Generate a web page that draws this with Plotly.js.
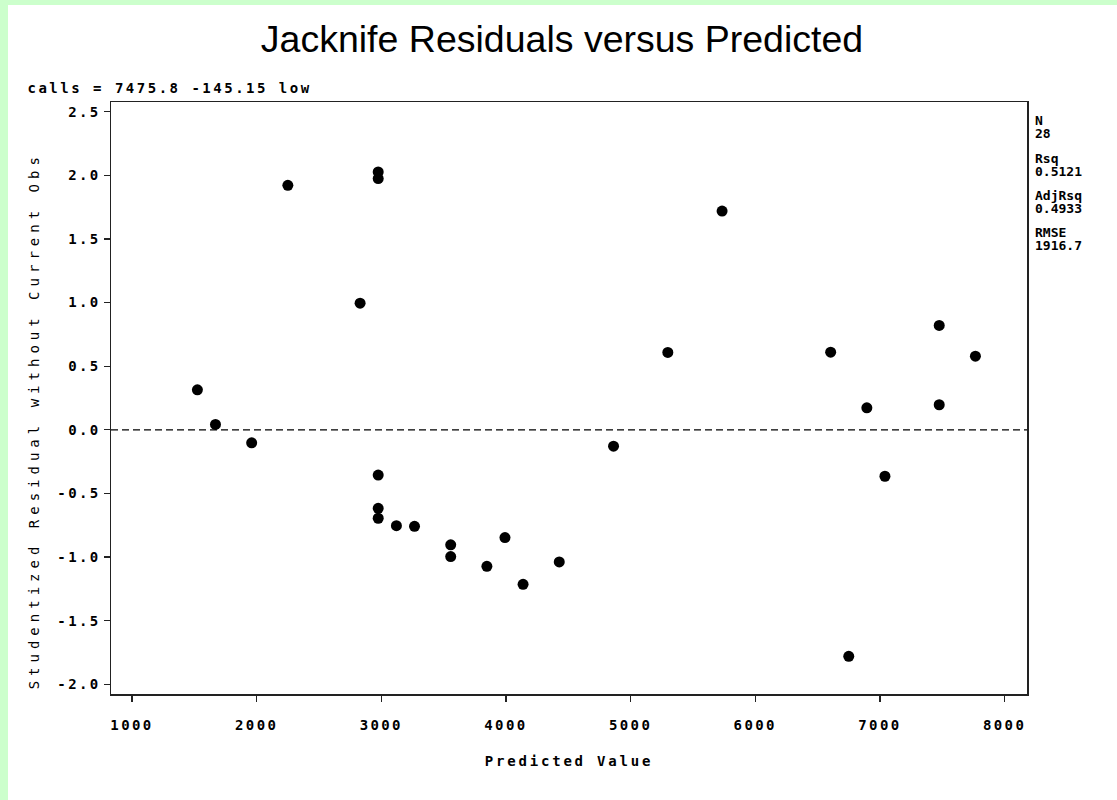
<!DOCTYPE html>
<html><head><meta charset="utf-8">
<script src="https://cdn.plot.ly/plotly-3.0.1.min.js"></script>
<style>
html,body{margin:0;padding:0;background:#ccffcc;width:1117px;height:800px;overflow:hidden;}
#chart{position:absolute;left:8px;top:5px;width:1109px;height:795px;background:#fff;}
#chart .xtick text, #chart .ytick text{letter-spacing:2.4px;}
#chart .xtitle{letter-spacing:2.8px;}
#chart .annotation[data-index="0"] text{letter-spacing:2.5px;}
#chart .annotation[data-index="1"] text{letter-spacing:5px;}
</style></head><body><div id="chart"></div>
<script>
// Data
const predicted = [1524.7, 1669.8, 1960.1, 2250.4, 2830.0, 2975.2, 2975.2, 2975.2, 2975.2, 2975.2,
                   3121.3, 3266.5, 3556.8, 3556.8, 3847.1, 3992.2, 4137.4, 4427.7, 4863.1, 5298.6,
                   5734.0, 6604.9, 6750.1, 6895.2, 7040.4, 7475.8, 7475.8, 7766.1];
const residuals = [0.314, 0.042, -0.102, 1.921, 0.995, 2.026, 1.974, -0.356, -0.617, -0.695,
                   -0.753, -0.758, -0.904, -0.996, -1.073, -0.847, -1.214, -1.038, -0.129, 0.608,
                   1.719, 0.610, -1.780, 0.173, -0.365, 0.820, 0.197, 0.579];
const xTickVals = [1000, 2000, 3000, 4000, 5000, 6000, 7000, 8000];
const yTickVals = [-2, -1.5, -1, -0.5, 0, 0.5, 1, 1.5, 2, 2.5];
const yTickText = ['-2.0', '-1.5', '-1.0', '-0.5', '0.0', '0.5', '1.0', '1.5', '2.0', '2.5'];
const chartTitle = 'Jacknife Residuals versus Predicted';
const xTitle = 'Predicted Value';
const yTitle = 'Studentized Residual without Current Obs';
const modelLabel = 'calls = 7475.8 -145.15 low';
const statNames = ['N', 'Rsq', 'AdjRsq', 'RMSE'];
const statValues = ['28', '0.5121', '0.4933', '1916.7'];

// geometry (page pixels -> paper coords)
const W = 1109, H = 795, offX = 8, offY = 5;
const plotL = 111, plotR = 1027.5, plotT = 101.7, plotB = 693.7;
const mL = plotL - offX, mT = plotT - offY, mR = W - (plotR - offX), mB = H - (plotB - offY);
const pw = plotR - plotL, ph = plotB - plotT;
const px = p => (p - plotL) / pw;
const py = p => 1 - (p - plotT) / ph;

const mono = 'DejaVu Sans Mono, Liberation Mono, monospace';
const boldMono = {family: mono, size: 14, color: '#000', weight: 'bold'};
const annotations = [];
annotations.push({text: modelLabel, xref: 'paper', yref: 'paper', x: px(170.5), y: py(88),
  xanchor: 'center', yanchor: 'middle', showarrow: false, font: boldMono});
annotations.push({text: yTitle, xref: 'paper', yref: 'paper', x: px(34), y: py(421),
  xanchor: 'center', yanchor: 'middle', textangle: -90, showarrow: false,
  font: {family: mono, size: 14, color: '#000'}});
const statY = [[120, 133], [158, 171], [195, 208], [232, 245]];
statNames.forEach((n, i) => {
  annotations.push({text: n, xref: 'paper', yref: 'paper', x: px(1034), y: py(statY[i][0]),
    xanchor: 'left', yanchor: 'middle', showarrow: false,
    font: {family: mono, size: 13, color: '#000', weight: 'bold'}});
  annotations.push({text: statValues[i], xref: 'paper', yref: 'paper', x: px(1034), y: py(statY[i][1]),
    xanchor: 'left', yanchor: 'middle', showarrow: false,
    font: {family: mono, size: 13, color: '#000', weight: 'bold'}});
});

const trace = {
  x: predicted, y: residuals, type: 'scatter', mode: 'markers',
  marker: {color: '#000', size: 11, line: {width: 0}},
  hoverinfo: 'x+y', showlegend: false
};

const axisCommon = {
  showline: true, linecolor: '#222', linewidth: 1.5, mirror: true,
  ticks: 'outside', ticklen: 6, tickwidth: 1.2, tickcolor: '#222',
  showgrid: false, zeroline: false, automargin: false,
  tickfont: boldMono
};

const layout = {
  width: W, height: H,
  paper_bgcolor: '#fff', plot_bgcolor: '#fff',
  margin: {l: mL, r: mR, t: mT, b: mB, pad: 0},
  title: {text: chartTitle, x: (562 - offX) / W, xref: 'container', xanchor: 'center',
          y: 1 - (39 - offY) / H, yref: 'container', yanchor: 'middle',
          font: {family: 'Liberation Sans, Arial, sans-serif', size: 37.5, color: '#000'}},
  xaxis: Object.assign({}, axisCommon, {
    range: [831.7, 8180], tickvals: xTickVals, ticktext: xTickVals.map(String),
    ticklabelstandoff: 12,
    title: {text: xTitle, standoff: 24, font: boldMono}
  }),
  yaxis: Object.assign({}, axisCommon, {
    range: [-2.076, 2.576], tickvals: yTickVals, ticktext: yTickText,
    title: {text: ''}
  }),
  shapes: [{type: 'line', xref: 'paper', x0: 0, x1: 1, yref: 'y', y0: 0, y1: 0,
            line: {color: '#000', width: 1.3, dash: '7px,4px'}, layer: 'below'}],
  annotations: annotations
};

Plotly.newPlot('chart', [trace], layout, {displayModeBar: false, staticPlot: true});
</script></body></html>
